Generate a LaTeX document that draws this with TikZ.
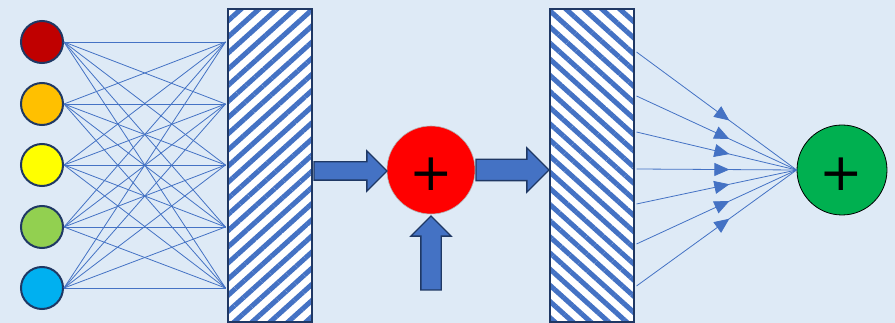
\documentclass[tikz,border=0pt]{standalone}
\usepackage{fontspec}
\newfontfamily\plusfont{DejaVu Sans}
\usetikzlibrary{shapes.arrows,patterns.meta,decorations.markings,arrows.meta}
\definecolor{bg}{HTML}{DEEAF6}
\definecolor{acc}{HTML}{4472C4}
\definecolor{navy}{HTML}{1F3864}
\definecolor{cRed}{HTML}{C00000}
\definecolor{cOrange}{HTML}{FFC000}
\definecolor{cYellow}{HTML}{FFFF00}
\definecolor{cGreen}{HTML}{92D050}
\definecolor{cCyan}{HTML}{00B0F0}
\definecolor{sumRed}{HTML}{FF0000}
\definecolor{sumGreen}{HTML}{00B050}
\begin{document}
\begin{tikzpicture}[x=1pt,y=-1pt,
  inputnode/.style={circle, draw=navy, line width=2pt, minimum size=42pt, inner sep=0pt},
  conn/.style={draw=acc, line width=0.8pt},
  hatchbox/.style={draw=navy, line width=2pt, preaction={fill=white}, minimum width=84pt, minimum height=313pt, inner sep=0pt},
  blockarrow/.style={single arrow, draw=navy, line width=1.3pt, fill=acc, single arrow head indent=0pt, outer sep=0pt},
  plussign/.style={font=\plusfont\fontsize{52}{52}\selectfont, inner sep=0pt},
  fanline/.style={draw=acc, line width=0.8pt, postaction={decorate},
    decoration={markings, mark=at position 0.58 with {\arrow[acc]{Triangle[length=15pt,width=13pt]}}}}
]
\fill[bg] (0,0) rectangle (895,323);
\useasboundingbox (0,0) rectangle (895,323);

% input circles
\node[inputnode, fill=cRed]    (c1) at (42,42) {};
\node[inputnode, fill=cOrange] (c2) at (42,104) {};
\node[inputnode, fill=cYellow] (c3) at (42,165) {};
\node[inputnode, fill=cGreen]  (c4) at (42,227) {};
\node[inputnode, fill=cCyan]   (c5) at (42,288) {};

% hatched layers
\node[hatchbox, pattern={Lines[angle=42,distance=12pt,line width=5pt]}, pattern color=acc] (h1) at (270,165.5) {};
\node[hatchbox, pattern={Lines[angle=-42,distance=12pt,line width=5pt]}, pattern color=acc] (h2) at (592,165.5) {};

% full connections
\foreach \a in {1,...,5} {
  \foreach \b in {1,...,5} {
    \draw[conn] (c\a.east) -- (h1.west |- c\b);
  }
}

% summation node
\node[circle, fill=sumRed, draw=gray!60, line width=0.6pt, minimum size=88pt, inner sep=0pt] (s) at (431,170) {};
\node[plussign] (sp) at (431,174.5) {+};

% block arrows
\node[blockarrow, anchor=tail, minimum height=73pt, minimum width=39pt, inner sep=8.5pt, single arrow head extend=11pt] (a1) at (314,171) {};
\node[blockarrow, anchor=tail, minimum height=73pt, minimum width=43pt, inner sep=10pt, single arrow head extend=11.5pt] (a2) at (476,170) {};
\node[blockarrow, anchor=tail, shape border rotate=90, minimum height=74pt, minimum width=39pt, inner sep=9.5pt, single arrow head extend=10pt] (a3) at (431,290) {};

% output node
\node[circle, fill=sumGreen, draw=black, line width=0.8pt, minimum size=90pt, inner sep=0pt] (g) at (842,170) {};
\node[plussign] (gp) at (841.5,174.5) {+};

% fan-in connections
\foreach \y [count=\i] in {52,96,132,169,204,244,286} {
  \coordinate (f\i) at (h2.east |- 0,\y);
  \draw[fanline] (f\i) -- (g.west);
}
\end{tikzpicture}
\end{document}
